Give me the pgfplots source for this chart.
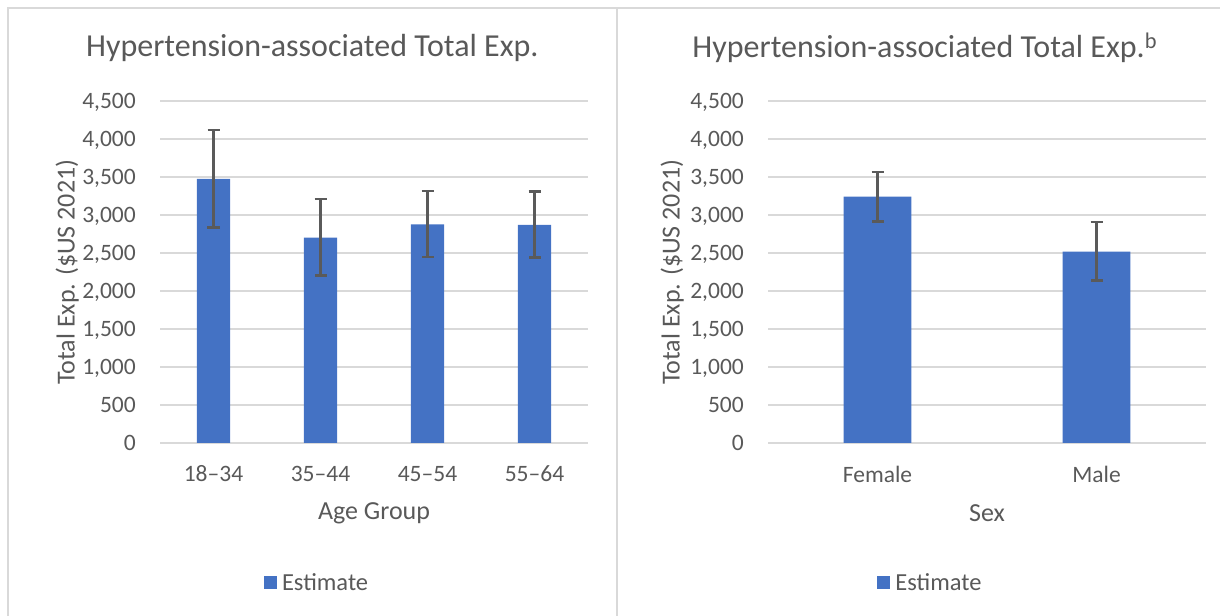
\documentclass[border=0pt]{standalone}
\usepackage{fontspec}
\setmainfont{Carlito}
\usepackage{pgfplots}
\pgfplotsset{compat=1.18}

\definecolor{barblue}{HTML}{4472C4}
\definecolor{txtgray}{HTML}{595959}
\definecolor{gridgray}{HTML}{D9D9D9}
\definecolor{errgray}{HTML}{5A5A5A}

\pgfplotsset{
  excelbar/.style={
    scale only axis, height=342bp,
    ymin=0, ymax=4500, ytick={0,500,...,4500},
    axis line style={draw=none}, major tick length=0pt,
    ymajorgrids, grid style={draw=gridgray, line width=1.5bp},
    ybar, bar width=0.31,
    /pgf/number format/1000 sep={,},
    /pgf/number format/assume math mode=true,
    tick label style={font=\fontsize{23.5bp}{27bp}\selectfont, text=txtgray},
    yticklabel style={anchor=east, inner sep=0pt, xshift=-24bp, text height=15bp, text depth=0pt},
    xticklabel style={anchor=center, yshift=-31bp},
    title style={font=\fontsize{32bp}{37bp}\selectfont, text=txtgray, anchor=center},
    xlabel style={font=\fontsize{26bp}{30bp}\selectfont, text=txtgray, at={(axis description cs:0.5,-0.205)}, anchor=center},
    ylabel style={font=\fontsize{26bp}{30bp}\selectfont, text=txtgray, anchor=center},
    ylabel={Total Exp. (\$US 2021)},
    legend style={draw=none, fill=none, anchor=center, font=\fontsize{24.5bp}{28bp}\selectfont, text=txtgray},
  },
  estbars/.style={
    fill=barblue, draw=none,
    legend image code/.code={\fill[barblue] (0bp,-6.5bp) rectangle (13bp,6.5bp);},
    error bars/.cd, y dir=both, y explicit,
    error bar style={draw=errgray, solid, line width=2.4bp},
    error mark options={draw=errgray, solid, rotate=90, line width=2.4bp, mark size=6bp},
  },
}

\begin{document}
\begin{tikzpicture}
\path[use as bounding box] (0,0) rectangle (1220bp,616bp);
\draw[gridgray, line width=1.5bp] (8bp,0) -- (8bp,608bp) -- (1220bp,608bp);
\draw[gridgray, line width=1.5bp] (617bp,0) -- (617bp,608bp);

% left: by age group
\begin{axis}[excelbar,
  at={(160bp,173bp)}, anchor=south west, width=428bp,
  xmin=-0.5, xmax=3.5, xtick={0,1,2,3},
  xticklabels={18–34,35–44,45–54,55–64},
  title={Hypertension-associated Total Exp.},
  title style={at={(axis description cs:0.356,1.137)}},
  xlabel={Age Group},
  ylabel style={at={(axis description cs:-0.217,0.5)}},
  legend style={at={(axis description cs:0.367,-0.409)}},
]
\addplot[estbars] coordinates {
  (0,3474) += (0,644) -= (0,641)
  (1,2702) += (0,505) -= (0,500)
  (2,2877) += (0,439) -= (0,426)
  (3,2870) += (0,440) -= (0,430)
};
\addlegendentry{\hspace{3bp}Estimate}
\end{axis}

% right: by sex
\begin{axis}[excelbar,
  at={(768bp,173bp)}, anchor=south west, width=438bp,
  xmin=-0.5, xmax=1.5, xtick={0,1},
  xticklabels={Female,Male},
  title={Hypertension-associated Total Exp.\textsuperscript{b}},
  title style={at={(axis description cs:0.358,1.137)}},
  xlabel={Sex},
  ylabel style={at={(axis description cs:-0.219,0.5)}},
  legend style={at={(axis description cs:0.371,-0.409)}},
]
\addplot[estbars] coordinates {
  (0,3241) += (0,325) -= (0,329)
  (1,2518) += (0,386) -= (0,382)
};
\addlegendentry{\hspace{3bp}Estimate}
\end{axis}
\end{tikzpicture}
\end{document}
